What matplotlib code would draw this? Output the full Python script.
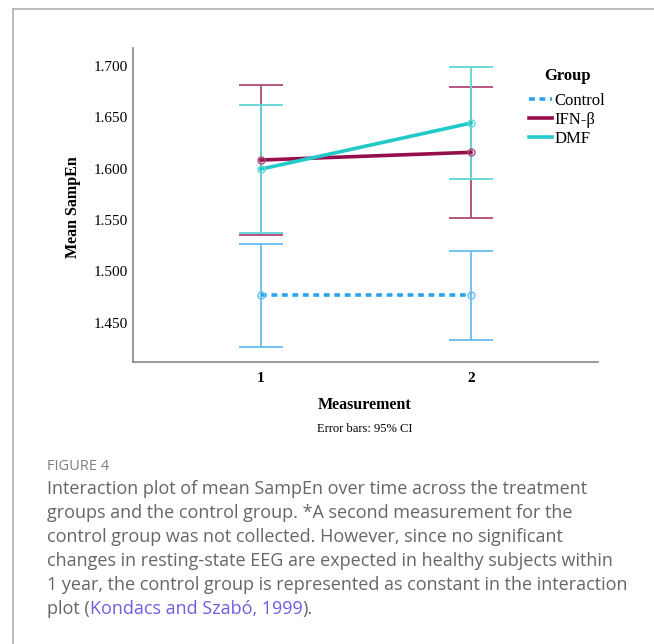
import matplotlib.pyplot as plt
from matplotlib.lines import Line2D

# Datos (medias e IC 95%)
measurements = [1, 2]
tick_labels = ["1", "2"]

control_mean = [1.4765, 1.4765]
control_lo = [1.4264, 1.4329]
control_hi = [1.5262, 1.5200]

ifn_mean = [1.6084, 1.6159]
ifn_lo = [1.5355, 1.5522]
ifn_hi = [1.6815, 1.6795]

dmf_mean = [1.5996, 1.6444]
dmf_lo = [1.5372, 1.5896]
dmf_hi = [1.6623, 1.6993]

y_ticks = [1.450, 1.500, 1.550, 1.600, 1.650, 1.700]

caption_lines = [
    "Interaction plot of mean SampEn over time across the treatment",
    "groups and the control group. *A second measurement for the",
    "control group was not collected. However, since no significant",
    "changes in resting-state EEG are expected in healthy subjects within",
    "1 year, the control group is represented as constant in the interaction",
]

W, H = 654, 644
fig = plt.figure(figsize=(W / 100, H / 100), dpi=100)
fig.patch.set_facecolor("white")

# Marco gris de la página
fig.add_artist(Line2D([13 / W, 13 / W], [0, 1 - 9 / H], color="#b0b0b0", lw=1.2))
fig.add_artist(Line2D([13 / W, 1], [1 - 9 / H, 1 - 9 / H], color="#b0b0b0", lw=1.2))

ax = fig.add_axes([133 / W, 1 - 362 / H, (598 - 133) / W, (362 - 48) / H])

serif = "Liberation Serif"
groups = [
    ("Control", control_mean, control_lo, control_hi, "#2aa3f0", "#66bdf0", (0, (1.6, 1.3))),
    ("IFN-β", ifn_mean, ifn_lo, ifn_hi, "#960f4c", "#b04a78", "-"),
    ("DMF", dmf_mean, dmf_lo, dmf_hi, "#22c9c9", "#5fd6d6", "-"),
]

for name, mean, lo, hi, col, ecol, ls in groups:
    yerr = [[m - l for m, l in zip(mean, lo)], [h - m for m, h in zip(mean, hi)]]
    ax.errorbar(measurements, mean, yerr=yerr, fmt="none", ecolor=ecol,
                elinewidth=1.3, capsize=16, capthick=1.3, zorder=2)
    ax.plot(measurements, mean, color=col, lw=2.6, linestyle=ls, zorder=3)
    ax.plot(measurements, mean, linestyle="none", marker="o", ms=5,
            mfc="none", mec=ecol, mew=1, zorder=4)

ax.set_xlim(0.39, 2.605)
ax.set_ylim(1.4117, 1.7175)
ax.set_xticks(measurements)
ax.set_xticklabels(tick_labels, fontfamily=serif, fontsize=11, fontweight="bold")
ax.set_yticks(y_ticks)
ax.set_yticklabels([f"{v:.3f}" for v in y_ticks], fontfamily=serif, fontsize=11)
ax.tick_params(length=0, pad=4)
ax.tick_params(axis="x", pad=7)
for s in ["top", "right"]:
    ax.spines[s].set_visible(False)
for s in ["left", "bottom"]:
    ax.spines[s].set_color("#888888")
    ax.spines[s].set_linewidth(1.2)

fig.text(73 / W, 1 - 207 / H, "Mean SampEn", rotation=90, ha="center", va="center",
         fontfamily=serif, fontsize=11.5, fontweight="bold")
fig.text(365 / W, 1 - 405 / H, "Measurement", ha="center", va="center",
         fontfamily=serif, fontsize=11.5, fontweight="bold")
fig.text(365 / W, 1 - 429 / H, "Error bars: 95% CI", ha="center", va="center",
         fontfamily=serif, fontsize=9)

handles = [Line2D([], [], color=g[4], lw=2.6, linestyle=g[6]) for g in groups]
leg = ax.legend(handles, [g[0] for g in groups], title="Group", loc="upper left",
                bbox_to_anchor=(521 / W, 1 - 60 / H), bbox_transform=fig.transFigure,
                frameon=False, borderpad=0, handlelength=1.35, handletextpad=0.15,
                labelspacing=0.18, prop={"family": serif, "size": 12})
leg.get_title().set_fontfamily(serif)
leg.get_title().set_fontweight("bold")
leg.get_title().set_fontsize(12)
leg._legend_box.align = "center"
leg._legend_box.sep = 6

# Pie de figura
sans = "Open Sans"
gray = "#666666"
fs = 13
fig.text(47 / W, 1 - 466 / H, "FIGURE 4", ha="left", va="center",
         fontfamily=sans, fontsize=10.5, color="#808080")
y0 = 489
for i, line in enumerate(caption_lines):
    fig.text(47 / W, 1 - (y0 + 24 * i) / H, line, ha="left", va="center",
             fontfamily=sans, fontsize=fs, color=gray)

# Última línea con la referencia en color
y_last = 1 - (y0 + 24 * 5) / H
t1 = fig.text(47 / W, y_last, "plot (", ha="left", va="center",
              fontfamily=sans, fontsize=fs, color=gray)
fig.canvas.draw()
r = fig.canvas.get_renderer()
x1 = t1.get_window_extent(r).x1 / W
t2 = fig.text(x1, y_last, "Kondacs and Szabó, 1999", ha="left", va="center",
              fontfamily=sans, fontsize=fs, color="#6b5fe0")
x2 = t2.get_window_extent(r).x1 / W
fig.text(x2, y_last, ").", ha="left", va="center",
         fontfamily=sans, fontsize=fs, color=gray)

fig.savefig("out.png", dpi=100)
